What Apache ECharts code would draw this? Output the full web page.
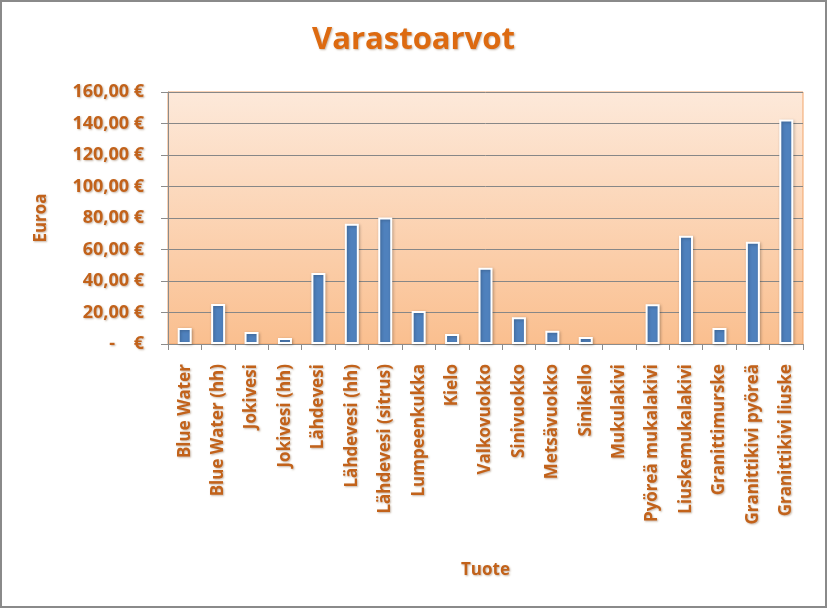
<!DOCTYPE html>
<html lang="fi">
<head>
  <meta charset="UTF-8">
  <title>Varastoarvot</title>
  <script src="https://cdn.jsdelivr.net/npm/echarts@6/dist/echarts.min.js"></script>
  <style>
    html, body { margin: 0; padding: 0; background: #fff; }
    #chart {
      width: 827px;
      height: 608px;
      box-sizing: border-box;
      border: 2px solid #8a8a8a;
    }
  </style>
</head>
<body>
  <div id="chart"></div>
  <script>
    // tuotteet ja varastoarvot (euroa)
    const tuotteet = [
      'Blue Water', 'Blue Water (hh)', 'Jokivesi', 'Jokivesi (hh)', 'Lähdevesi',
      'Lähdevesi (hh)', 'Lähdevesi (sitrus)', 'Lumpeenkukka', 'Kielo', 'Valkovuokko',
      'Sinivuokko', 'Metsävuokko', 'Sinikello', 'Mukulakivi', 'Pyöreä mukalakivi',
      'Liuskemukalakivi', 'Granittimurske', 'Granittikivi pyöreä', 'Granittikivi liuske'
    ];
    const arvot = [
      10.1, 25.4, 7.6, 3.8, 45.1,
      76.3, 80.3, 21.0, 6.3, 48.4,
      17.0, 8.4, 4.4, 0, 25.3,
      68.8, 10.1, 65.0, 142.5
    ];
    const yMin = 0, yMax = 160, yStep = 20;

    const textColor = '#C2621A';
    const font = '"Open Sans", "Noto Sans", sans-serif';
    const shadow = { textShadowColor: 'rgba(90,40,0,0.35)', textShadowBlur: 2, textShadowOffsetX: 1, textShadowOffsetY: 1 };

    const formatEuro = v => v === 0 ? '-    €' : v.toFixed(2).replace('.', ',') + ' €';

    // nollapylväälle ei reunaviivaa
    const barData = arvot.map(v => v === 0 ? { value: v, itemStyle: { borderWidth: 0, shadowBlur: 0 } } : v);

    const chart = echarts.init(document.getElementById('chart'), null, { renderer: 'canvas' });

    chart.setOption({
      animation: false,
      title: {
        text: 'Varastoarvot',
        left: 'center',
        top: 18,
        textStyle: Object.assign({ color: '#DD6A10', fontSize: 31, fontWeight: 'bold', fontFamily: font }, shadow)
      },
      grid: {
        left: 166, right: 22, top: 90, bottom: 262,
        show: true,
        backgroundColor: new echarts.graphic.LinearGradient(0, 0, 0, 1, [
          { offset: 0, color: '#FDE9DA' },
          { offset: 1, color: '#FABF8F' }
        ]),
        borderColor: '#F2A56A',
        borderWidth: 1
      },
      xAxis: {
        type: 'category',
        data: tuotteet,
        name: 'Tuote',
        nameLocation: 'middle',
        nameGap: 218,
        nameTextStyle: Object.assign({ color: textColor, fontSize: 17, fontWeight: 'bold', fontFamily: font }, shadow),
        axisLine: { lineStyle: { color: '#8c8c8c', width: 1 } },
        axisTick: { show: true, length: 6, lineStyle: { color: '#8c8c8c' } },
        axisLabel: Object.assign({
          rotate: 90, interval: 0, margin: 20,
          color: textColor, fontSize: 17, fontWeight: 'bold', fontFamily: font
        }, shadow)
      },
      yAxis: {
        type: 'value',
        min: yMin, max: yMax, interval: yStep,
        name: 'Euroa',
        nameLocation: 'middle',
        nameRotate: 90,
        nameGap: 118,
        nameTextStyle: Object.assign({ color: textColor, fontSize: 17, fontWeight: 'bold', fontFamily: font }, shadow),
        axisLine: { show: true, lineStyle: { color: '#8c8c8c' } },
        axisTick: { show: true, length: 7, lineStyle: { color: '#8c8c8c' } },
        splitLine: { lineStyle: { color: '#878787', width: 1 } },
        axisLabel: Object.assign({
          margin: 24,
          formatter: formatEuro,
          color: textColor, fontSize: 18, fontWeight: 'bold', fontFamily: font
        }, shadow)
      },
      series: [{
        type: 'bar',
        data: barData,
        barWidth: 14,
        itemStyle: {
          color: '#4F81BD',
          borderColor: '#ffffff',
          borderWidth: 2,
          shadowColor: 'rgba(0,0,0,0.25)',
          shadowBlur: 3,
          shadowOffsetX: 1,
          shadowOffsetY: 1
        }
      }]
    });
  </script>
</body>
</html>
